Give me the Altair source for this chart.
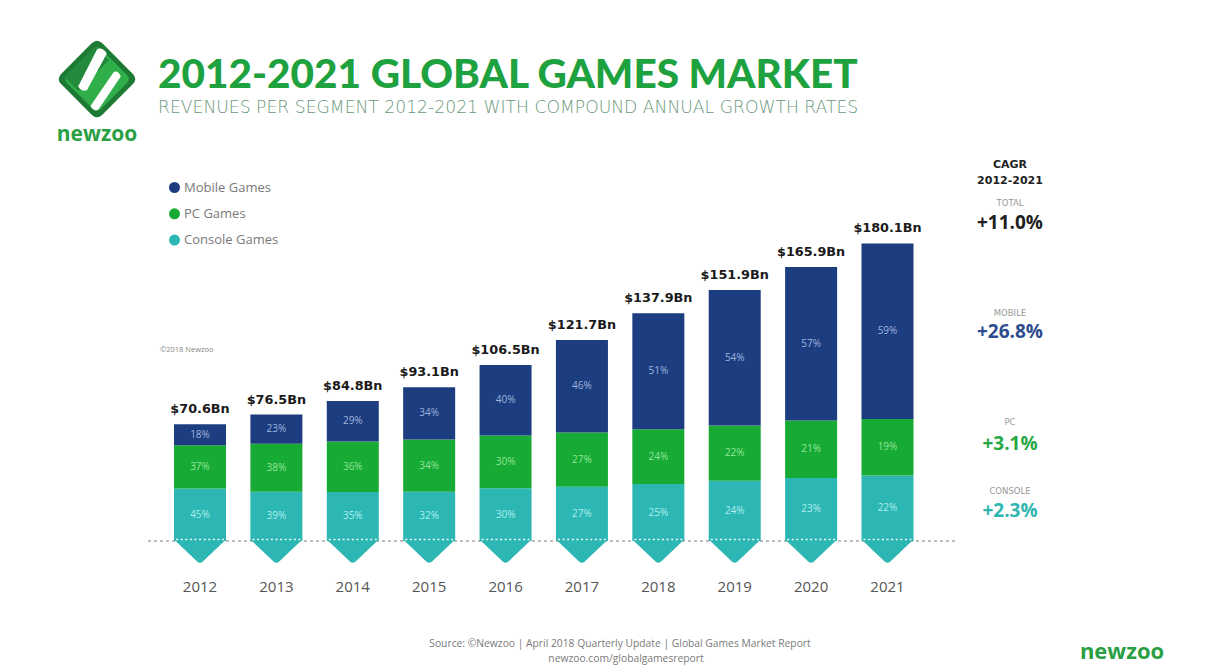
import altair as alt
import pandas as pd

# ---------------- data ----------------
years = [2012, 2013, 2014, 2015, 2016, 2017, 2018, 2019, 2020, 2021]
totals = [70.6, 76.5, 84.8, 93.1, 106.5, 121.7, 137.9, 151.9, 165.9, 180.1]
mobile_pct = [18, 23, 29, 34, 40, 46, 51, 54, 57, 59]
pc_pct = [37, 38, 36, 34, 30, 27, 24, 22, 21, 19]
console_pct = [45, 39, 35, 32, 30, 27, 25, 24, 23, 22]

segments = ["Mobile Games", "PC Games", "Console Games"]
seg_colors = ["#1c3d80", "#17aa35", "#2db7b4"]
seg_label_colors = ["#9fb4dd", "#93e59a", "#aeeeec"]

cagr_head = ["CAGR", "2012-2021"]
cagr_names = ["TOTAL", "MOBILE", "PC", "CONSOLE"]
cagr_values = ["+11.0%", "+26.8%", "+3.1%", "+2.3%"]
cagr_colors = ["#1f1f1f", "#2d4c8e", "#27a845", "#2fb6b1"]

title_text = "2012-2021 GLOBAL GAMES MARKET"
subtitle_text = "REVENUES PER SEGMENT 2012-2021 WITH COMPOUND ANNUAL GROWTH RATES"
copyright_text = "\u00a92018 Newzoo"
source_lines = ["Source: \u00a9Newzoo | April 2018 Quarterly Update | Global Games Market Report",
                "newzoo.com/globalgamesreport"]
brand = "newzoo"

# ---------------- tables ----------------
rows = []
for i, y in enumerate(years):
    t = totals[i]
    c, p, m = console_pct[i], pc_pct[i], mobile_pct[i]
    c_top = t * c / 100.0
    p_top = t * (c + p) / 100.0
    rows.append({"year": y, "segment": "Console Games", "y0": 0.0, "y1": c_top, "pct": f"{c}%"})
    rows.append({"year": y, "segment": "PC Games", "y0": c_top, "y1": p_top, "pct": f"{p}%"})
    rows.append({"year": y, "segment": "Mobile Games", "y0": p_top, "y1": t, "pct": f"{m}%"})
seg_df = pd.DataFrame(rows)
seg_df["mid"] = (seg_df["y0"] + seg_df["y1"]) / 2
tot_df = pd.DataFrame({"year": years, "total": totals})
dummy = pd.DataFrame({"k": [0]})

W, H = 1192, 658
BASE = 533
PX_PER_BN = 1.652
x_scale = alt.Scale(domain=[2012, 2021], range=[187, 884.5])
y_scale = alt.Scale(domain=[0, 200], range=[BASE, BASE - 200 * PX_PER_BN])
X = alt.X("year:Q", scale=x_scale, axis=None)

baseline = alt.Chart(tot_df).mark_rule(color="#bdbdbd", strokeDash=[3, 3], strokeWidth=1).encode(
    y=alt.value(BASE), x=alt.value(140), x2=alt.value(949))

bars = alt.Chart(seg_df).mark_bar(width=52).encode(
    x=X,
    y=alt.Y("y0:Q", scale=y_scale, axis=None),
    y2="y1:Q",
    fill=alt.Fill("segment:N", scale=alt.Scale(domain=segments, range=seg_colors),
                  legend=alt.Legend(orient="none", legendX=160, legendY=173, title=None,
                                    symbolType="circle", symbolSize=121, symbolStrokeWidth=0,
                                    labelFontSize=13, labelColor="#7a7a7a", labelFont="Open Sans",
                                    rowPadding=12.3, labelOffset=3)),
)

chevron = alt.Chart(tot_df).mark_point(
    shape="M-1,-0.06 L1,-0.06 L0.1,0.8 Q0,0.88 -0.1,0.8 Z", size=2704, filled=True,
    opacity=1, color=seg_colors[2], strokeWidth=0).encode(x=X, y=alt.value(BASE))

dots = alt.Chart(tot_df).mark_point(
    shape="M-0.92,-0.06 L0.92,-0.06", size=2704, filled=False, opacity=0.95,
    stroke="white", strokeWidth=1.6, strokeDash=[2, 2.6]).encode(x=X, y=alt.value(BASE))

pct_labels = alt.Chart(seg_df).mark_text(fontSize=10, font="Open Sans").encode(
    x=X, y=alt.Y("mid:Q", scale=y_scale, axis=None),
    text="pct:N",
    color=alt.Color("segment:N", scale=alt.Scale(domain=segments, range=seg_label_colors), legend=None),
)

tot_labels = alt.Chart(tot_df).transform_calculate(
    lab="'$' + format(datum.total, '.1f') + 'Bn'").mark_text(
    dy=-15, fontSize=12.8, fontWeight="bold", font="DejaVu Sans", color="#1a1a1a").encode(
    x=X, y=alt.Y("total:Q", scale=y_scale, axis=None), text="lab:N")

year_labels = alt.Chart(tot_df).mark_text(fontSize=15, font="Open Sans", color="#555555").encode(
    x=X, y=alt.value(579), text=alt.Text("year:Q", format="d"))


def txt(s, x, y, size, color, weight="normal", align="center", font="Open Sans", baseline="middle"):
    return alt.Chart(dummy).mark_text(fontSize=size, color=color, fontWeight=weight, align=align,
                                      font=font, baseline=baseline, text=s).encode(
        x=alt.value(x), y=alt.value(y))


def shape(path, x, y, size, color):
    return alt.Chart(dummy).mark_point(shape=path, size=size, filled=True, opacity=1,
                                       color=color, strokeWidth=0).encode(x=alt.value(x), y=alt.value(y))


rdiamond = ("M-0.13,-0.87 Q0,-1 0.13,-0.87 L0.87,-0.13 Q1,0 0.87,0.13 L0.13,0.87 "
            "Q0,1 -0.13,0.87 L-0.87,0.13 Q-1,0 -0.87,-0.13 Z")
logo = [
    shape(rdiamond, 89, 71, 82 * 82, "#1d7a35"),
    shape(rdiamond, 89, 71, 68 * 68, "#2fae4a"),
    shape("M-0.05,-0.95 L0.35,-0.55 L-0.55,0.35 L-0.95,-0.05 Z", 89, 71, 68 * 68, "#238a3c"),
    shape("M0.0,-0.72 Q0.12,-0.8 0.24,-0.62 L-0.24,0.26 Q-0.34,0.34 -0.46,0.18 Z", 89, 71, 82 * 82, "white"),
    shape("M0.4,-0.16 Q0.5,-0.24 0.58,-0.06 L0.04,0.74 Q-0.06,0.82 -0.16,0.66 Z", 89, 71, 82 * 82, "white"),
    txt(brand, 89, 133, 21, "#2a9f43", weight="bold", baseline="alphabetic"),
]

texts = [
    txt(title_text, 150, 80, 40.5, "#1ea13f", weight=900, align="left", font="Lato", baseline="alphabetic"),
    txt(subtitle_text, 150, 105, 17.2, "#6a977a", weight=200, align="left", font="DejaVu Sans",
        baseline="alphabetic"),
    txt(copyright_text, 152, 342, 7.5, "#888888", align="left"),
    txt(cagr_head[0], 1002, 157, 11, "#222222", weight="bold", font="DejaVu Sans"),
    txt(cagr_head[1], 1002, 173, 11, "#222222", weight="bold", font="DejaVu Sans"),
    txt(cagr_names[0], 1002, 195, 8.5, "#999999", font="DejaVu Sans"),
    txt(cagr_values[0], 1002, 215, 19, cagr_colors[0], weight="bold"),
    txt(cagr_names[1], 1002, 305, 8.5, "#999999", font="DejaVu Sans"),
    txt(cagr_values[1], 1002, 324, 19, cagr_colors[1], weight="bold"),
    txt(cagr_names[2], 1002, 414, 8.5, "#999999", font="DejaVu Sans"),
    txt(cagr_values[2], 1002, 436, 19, cagr_colors[2], weight="bold"),
    txt(cagr_names[3], 1002, 483, 8.5, "#999999", font="DejaVu Sans"),
    txt(cagr_values[3], 1002, 503, 19, cagr_colors[3], weight="bold"),
    txt(source_lines[0], 612, 636, 10.3, "#7a7a7a"),
    txt(source_lines[1], 618, 651, 10.3, "#7a7a7a"),
    txt(brand, 1114, 651, 22, "#2a9f43", weight="bold", baseline="alphabetic"),
]

chart = alt.layer(baseline, bars, chevron, dots, pct_labels, tot_labels, year_labels, *logo, *texts).properties(
    width=W, height=H, padding=0, autosize="none").configure_view(stroke=None)

chart.save("out.html", embed_options={"renderer": "svg", "actions": False})
